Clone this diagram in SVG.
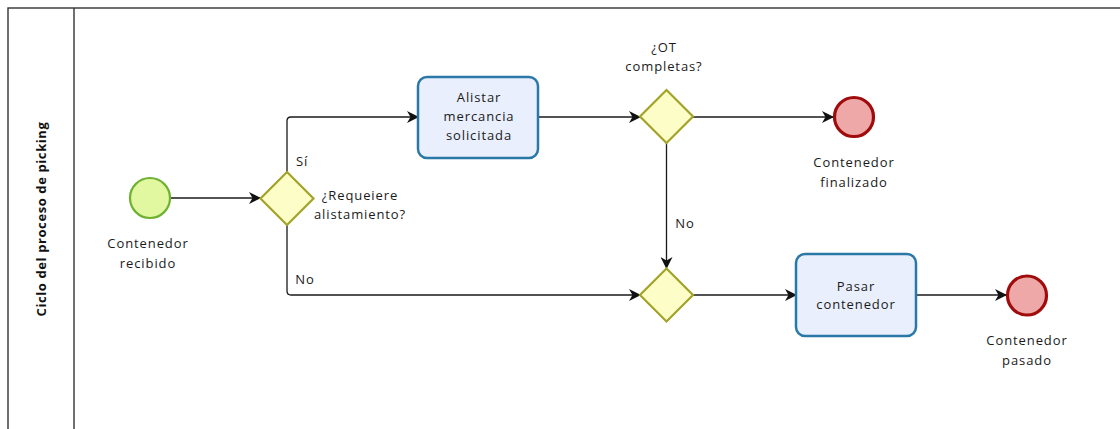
<svg xmlns="http://www.w3.org/2000/svg" width="1120" height="429" viewBox="0 0 1120 429">
<style>
  text { font-family: "Open Sans", "Noto Sans", "Liberation Sans", sans-serif; font-size: 13px; fill: #1a1a1a; letter-spacing: 0.9px; text-anchor: middle; }
  .title { font-weight: bold; font-size: 13px; letter-spacing: 0.6px; fill: #111; }
  .task rect { fill: #e9effc; stroke: #2a78a8; stroke-width: 2.5; }
  .gw polygon { fill: #fdfdc8; stroke: #a3a32a; stroke-width: 2.2; }
  .start circle { fill: #e1f8a0; stroke: #6fb232; stroke-width: 2.2; }
  .end circle { fill: #eea8a8; stroke: #a00c0c; stroke-width: 3.2; }
  .flow { fill: none; stroke: #1a1a1a; stroke-width: 1.3; marker-end: url(#arrow); }
  .pool { fill: none; stroke: #333; stroke-width: 1.4; }
</style>
<defs>
  <marker id="arrow" viewBox="0 0 12 12" refX="11" refY="6" markerWidth="12" markerHeight="12" markerUnits="userSpaceOnUse" orient="auto">
    <path d="M0,0 L12,6 L0,12 L3.5,6 z" fill="#111"/>
  </marker>
</defs>
<rect width="1120" height="429" fill="#ffffff"/>
<g id="pool">
  <rect class="pool" x="8" y="8" width="1130" height="440"/>
  <line class="pool" x1="74" y1="8" x2="74" y2="429"/>
  <text class="title" transform="translate(46,219) rotate(-90)">Ciclo del proceso de picking</text>
</g>
<g id="connectors">
  <path class="flow" d="M170,198 H260"/>
  <path class="flow" d="M287,172 V121 Q287,117 291,117 H418"/>
  <path class="flow" d="M287,225 V291 Q287,295 291,295 H640"/>
  <path class="flow" d="M538,117 H640"/>
  <path class="flow" d="M693,117 H833"/>
  <path class="flow" d="M666.5,143 V268"/>
  <path class="flow" d="M693,295 H796"/>
  <path class="flow" d="M916,295 H1006"/>
  <text x="302" y="166">Sí</text>
  <text x="305" y="284">No</text>
  <text x="685" y="228">No</text>
</g>
<g id="start" class="start">
  <circle cx="150" cy="198" r="20"/>
  <text x="148" y="248">Contenedor</text>
  <text x="148" y="268">recibido</text>
</g>
<g id="gw1" class="gw">
  <polygon points="287,172 313.5,198.5 287,225 260.5,198.5"/>
  <text x="360" y="200">¿Requeiere</text>
  <text x="360" y="219">alistamiento?</text>
</g>
<g id="task1" class="task">
  <rect x="418" y="77" width="120" height="81" rx="9"/>
  <text x="479" y="102">Alistar</text>
  <text x="479" y="121">mercancia</text>
  <text x="479" y="140">solicitada</text>
</g>
<g id="gw2" class="gw">
  <polygon points="666.5,90 693,116.5 666.5,143 640,116.5"/>
  <text x="664" y="52">¿OT</text>
  <text x="664" y="71">completas?</text>
</g>
<g id="end1" class="end">
  <circle cx="854" cy="117" r="19.5"/>
  <text x="854" y="167">Contenedor</text>
  <text x="854" y="187">finalizado</text>
</g>
<g id="gw3" class="gw">
  <polygon points="666.5,268.5 693,295 666.5,321.5 640,295"/>
</g>
<g id="task2" class="task">
  <rect x="796" y="254" width="120" height="82" rx="9"/>
  <text x="856" y="291">Pasar</text>
  <text x="856" y="309">contenedor</text>
</g>
<g id="end2" class="end">
  <circle cx="1027" cy="295.5" r="19.5"/>
  <text x="1027" y="345">Contenedor</text>
  <text x="1027" y="365">pasado</text>
</g>
</svg>
